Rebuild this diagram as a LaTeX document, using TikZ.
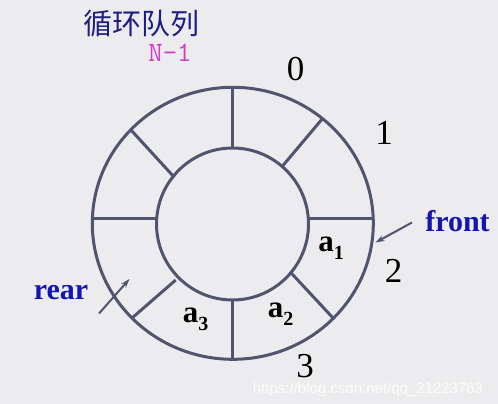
\documentclass[tikz,border=0pt]{standalone}
\usepackage{fontspec}
\setmainfont{Liberation Serif}
\newfontfamily\cjkfont{Noto Sans CJK SC}
\newfontfamily\wmfont{Liberation Sans}
\usetikzlibrary{arrows.meta}
\definecolor{bgc}{RGB}{236,236,239}
\definecolor{ringc}{RGB}{80,84,110}
\definecolor{navyc}{RGB}{30,30,130}
\definecolor{magc}{RGB}{210,60,200}
\definecolor{lbluec}{RGB}{20,20,180}
\newcommand\elsub[1]{\raisebox{-8pt}{\fontsize{20}{20}\selectfont\bfseries #1}}
\tikzset{
  ring/.style={draw=ringc, line width=3pt},
  num/.style={font=\fontsize{35}{35}\selectfont, inner sep=0pt},
  ptr/.style={font=\fontsize{30}{30}\selectfont\bfseries, text=lbluec, inner sep=0pt},
  elem/.style={font=\fontsize{31}{31}\selectfont\bfseries, inner sep=0pt},
  arr/.style={draw=ringc, line width=2pt, -{Stealth[length=9pt,width=6pt]}},
}
\begin{document}
\begin{tikzpicture}[x=1pt,y=-1pt]
\fill[bgc] (0,0) rectangle (498,404);
\useasboundingbox (0,0) rectangle (498,404);
% ring
\draw[ring] (232.8,223.3) ellipse [x radius=140.5, y radius=136];
\draw[ring] (232.5,224) circle [radius=76];
% spokes
\draw[ring] (232.3,87.5) -- (232.3,148);
\draw[ring] (232.3,300) -- (232.3,359);
\draw[ring] (92.5,218.3) -- (156.7,218.3);
\draw[ring] (308.3,218.3) -- (373.2,218.3);
\draw[ring] (281.7,167) -- (323,118);
\draw[ring] (174.3,177.3) -- (131,130);
\draw[ring] (290,271.7) -- (333.3,318.3);
\draw[ring] (175.7,280) -- (131.7,318.3);
% titles
\node[font=\cjkfont\fontsize{29}{29}\selectfont, text=navyc, inner sep=0pt] (title) at (141,24) {循环队列};
\node[font=\ttfamily\fontsize{28}{28}\selectfont, text=magc, inner sep=0pt] (nm1) at (170,53) {N-1};
% indices
\node[num] (n0) at (295.5,69) {0};
\node[num] (n1) at (384,133) {1};
\node[num] (n2) at (393.5,270.5) {2};
\node[num] (n3) at (305,366.5) {3};
% elements
\node[elem] (a1) at (331,248.5) {a\elsub{1}};
\node[elem] (a2) at (280.5,314.5) {a\elsub{2}};
\node[elem] (a3) at (195.5,319.5) {a\elsub{3}};
% pointers
\node[ptr] (front) at (457.5,221) {front};
\node[ptr] (rear) at (61,293) {rear};
\coordinate (fs) at (412,222.5);
\coordinate (fe) at (375.5,242.5);
\coordinate (rs) at (99,313.5);
\coordinate (re) at (129.5,279);
\draw[arr] (fs) -- (fe);
\draw[arr] (rs) -- (re);
% watermark
\node[font=\wmfont\fontsize{15}{15}\selectfont, text=white, opacity=0.85, inner sep=0pt] (wm) at (368,390) {https://blog.csdn.net/qq\_21223763};
\end{tikzpicture}
\end{document}
